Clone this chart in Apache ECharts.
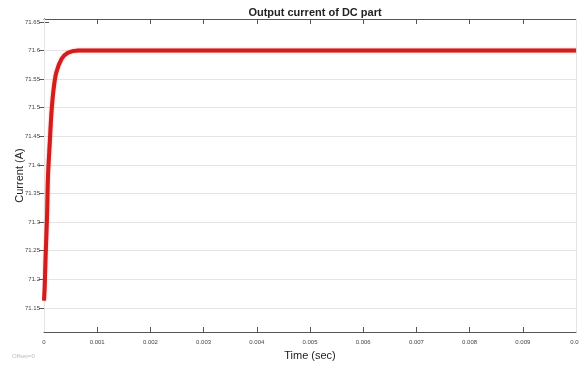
<!DOCTYPE html>
<html>
<head>
<meta charset="utf-8">
<script src="https://cdn.jsdelivr.net/npm/echarts@6/dist/echarts.min.js"></script>
<style>
  html, body { margin: 0; padding: 0; background: #fff; }
  #chart { width: 579px; height: 366px; }
</style>
</head>
<body>
<div id="chart"></div>
<script>
// values
const time = [0, 0.000013, 0.00003, 0.000057, 0.000075, 0.000108, 0.00014, 0.00018,
  0.00023, 0.00033, 0.00045, 0.00064, 0.001, 0.002, 0.004, 0.006, 0.008, 0.01];
const current = [71.163, 71.187, 71.24, 71.31, 71.38, 71.438, 71.491, 71.532,
  71.561, 71.585, 71.596, 71.6, 71.6, 71.6, 71.6, 71.6, 71.6, 71.6];
const yTicks = [71.15, 71.2, 71.25, 71.3, 71.35, 71.4, 71.45, 71.5, 71.55, 71.6, 71.65];
const xTicks = [0, 0.001, 0.002, 0.003, 0.004, 0.005, 0.006, 0.007, 0.008, 0.009, 0.01];

const chart = echarts.init(document.getElementById("chart"));

const axisColor = "#555";
const gridColor = "#e4e4e4";

const xBase = {
  type: "value",
  min: 0,
  max: 0.01,
  axisLine: { lineStyle: { color: axisColor, width: 1 } },
  axisTick: { inside: true, length: 5, customValues: xTicks, lineStyle: { color: axisColor } },
  splitLine: { show: false },
};
const yBase = {
  type: "value",
  min: 71.108,
  max: 71.655,
  axisLine: { show: true, lineStyle: { color: axisColor, width: 1 } },
  axisTick: { show: true, inside: true, length: 5, customValues: yTicks, lineStyle: { color: axisColor } },
  splitLine: { show: false },
};

chart.setOption({
  animation: false,
  title: {
    text: "Output current of DC part",
    left: 310,
    textAlign: "center",
    top: 2,
    textStyle: { fontFamily: "Liberation Sans", fontSize: 11, fontWeight: "bold", color: "#222" },
  },
  grid: { left: 44, right: 3, top: 19, bottom: 34, containLabel: false, outerBoundsMode: "none" },
  xAxis: [
    Object.assign({}, xBase, {
      position: "bottom",
      name: "Time (sec)",
      nameLocation: "middle",
      nameGap: 18,
      nameMoveOverlap: false,
      nameTextStyle: { fontFamily: "Liberation Sans", fontSize: 11, color: "#222" },
      axisLabel: {
        customValues: xTicks,
        margin: 7,
        fontFamily: "Liberation Sans",
        fontSize: 6,
        color: "#444",
        formatter: (v) => (v === 0 ? "0" : v.toFixed(3).replace(/0+$/, "")),
      },
    }),
    Object.assign({}, xBase, { position: "top", axisLabel: { show: false } }),
  ],
  yAxis: [
    Object.assign({}, yBase, {
      position: "left",
      name: "Current (A)",
      nameLocation: "middle",
      nameGap: 19,
      nameMoveOverlap: false,
      nameTextStyle: { fontFamily: "Liberation Sans", fontSize: 11, color: "#222" },
      axisLabel: {
        customValues: yTicks,
        margin: 4,
        fontFamily: "Liberation Sans",
        fontSize: 6,
        color: "#444",
        formatter: (v) => String(Math.round(v * 100) / 100),
      },
    }),
    Object.assign({}, yBase, { position: "right", axisLabel: { show: false } }),
  ],
  series: [
    {
      type: "line",
      data: time.map((t, i) => [t, current[i]]),
      showSymbol: false,
      smooth: 0.3,
      lineStyle: { color: "#d41c1c", width: 4, shadowColor: "rgba(230,60,60,0.5)", shadowBlur: 2 },
      z: 5,
      markLine: {
        silent: true,
        symbol: "none",
        label: { show: false },
        lineStyle: { color: gridColor, width: 1, type: "solid" },
        data: xTicks.slice(1, -1).map((v) => ({ xAxis: v }))
          .concat(yTicks.slice(0, -1).map((v) => ({ yAxis: v }))),
        z: 1,
      },
    },
  ],
  graphic: [
    {
      type: "text",
      left: 12,
      top: 353,
      style: { text: "Offset=0", fontSize: 6, fill: "#bbb", fontFamily: "Liberation Sans" },
    },
  ],
});
</script>
</body>
</html>
